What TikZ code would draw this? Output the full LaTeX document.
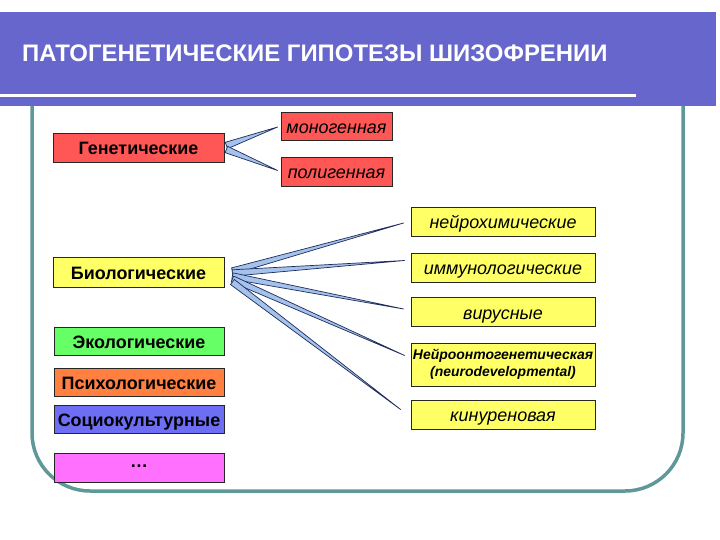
\documentclass[tikz,border=0pt]{standalone}
\usepackage{fontspec}
\setmainfont{Liberation Sans}
\usetikzlibrary{calc}
\definecolor{banner}{HTML}{6666CC}
\definecolor{frameteal}{HTML}{5F9898}
\definecolor{gred}{HTML}{FF5656}
\definecolor{gyel}{HTML}{FFFF66}
\definecolor{ggreen}{HTML}{66FF66}
\definecolor{gorange}{HTML}{FF8040}
\definecolor{gblue}{HTML}{6E6EF5}
\definecolor{gpink}{HTML}{FF70FF}
\definecolor{wedgefill}{HTML}{A4C2EC}
\definecolor{wedgeline}{HTML}{1E2C5A}
\tikzset{
  box/.style={draw=black!85, line width=0.8bp, inner sep=0pt, align=center},
  catbox/.style={box, minimum width=170bp, minimum height=29bp, text height=16bp, text depth=1bp, font=\fontsize{18}{20}\selectfont\bfseries},
  subbox/.style={box, fill=gyel, minimum width=184bp, minimum height=29bp, text height=16bp, text depth=1.6bp, font=\fontsize{18}{20}\selectfont\itshape},
  genbox/.style={box, fill=gred, minimum width=111bp, minimum height=28bp, text height=16bp, text depth=1.6bp, font=\fontsize{18}{20}\selectfont\itshape},
  wedge/.style={fill=wedgefill, draw=wedgeline, line width=0.7bp, line join=round}
}
\newcommand{\wedgeconn}[3]{%
  \path[wedge] ($(#1)!#3!90:(#2)$) -- (#2) -- ($(#1)!#3!-90:(#2)$) -- cycle;}
\begin{document}
\begin{tikzpicture}[x=1bp,y=-1bp]
\useasboundingbox (0,0) rectangle (720,540);
\fill[white] (0,0) rectangle (720,540);
% frame
\draw[frameteal, line width=3.5bp, rounded corners=58bp] (32,80) -- (32,491) -- (683,491) -- (683,80);
% banner
\fill[banner] (0,12) rectangle (716,106);
\fill[white] (0,94.5) rectangle (636,97.5);
\node[anchor=west, inner sep=0pt, text=white, font=\fontsize{24}{26}\selectfont\bfseries] (title) at (22,53) {ПАТОГЕНЕТИЧЕСКИЕ ГИПОТЕЗЫ ШИЗОФРЕНИИ};
% left categories
\node[catbox, fill=gred, minimum width=171bp] (gen) at (138.5,147.5) {Генетические};
\node[catbox, fill=gyel, minimum width=171bp, minimum height=30bp] (bio) at (138.5,272) {Биологические};
\node[catbox, fill=ggreen, minimum height=28bp] (eco) at (139,341) {Экологические};
\node[catbox, fill=gorange, minimum height=28bp] (psy) at (139,382) {Психологические};
\node[catbox, fill=gblue, minimum height=28bp] (soc) at (139,419) {Социокультурные};
\node[catbox, fill=gpink, text height=2bp, text depth=2bp] (dots) at (139,467.5) {…};
% genetic subtypes
\node[genbox] (mono) at (336.5,126) {моногенная};
\node[genbox, minimum height=29bp] (poly) at (336.5,171.5) {полигенная};
% biological subtypes
\node[subbox] (nch) at (503,221.5) {нейрохимические};
\node[subbox] (imm) at (503,267.5) {иммунологические};
\node[subbox] (vir) at (503,312) {вирусные};
\node[box, fill=gyel, minimum width=184bp, minimum height=43bp, font=\fontsize{14}{17}\selectfont\bfseries\itshape] (ont) at (503,364.5) {Нейроонтогенетическая\\(neurodevelopmental)};
\node[subbox] (kyn) at (503,414.5) {кинуреновая};
% connector anchor points
\coordinate (gs1) at ($(gen.east)+(2,-2)$);
\coordinate (gs2) at ($(gen.east)+(2,2)$);
\coordinate (ge1) at ($(mono.west)+(-3,1)$);
\coordinate (ge2) at ($(poly.west)+(-3,-1)$);
\coordinate (bs1) at ($(bio.east)+(8,-1)$);
\coordinate (bs2) at ($(bio.east)+(8,1)$);
\coordinate (bs3) at ($(bio.east)+(8,4)$);
\coordinate (bs4) at ($(bio.east)+(8,7)$);
\coordinate (bs5) at ($(bio.east)+(8,10)$);
\coordinate (be1) at ($(nch.west)+(-7,1.5)$);
\coordinate (be2) at ($(imm.west)+(-6,-7)$);
\coordinate (be3) at ($(vir.west)+(-7,-3)$);
\coordinate (be4) at ($(ont.west)+(-6,-9)$);
\coordinate (be5) at ($(kyn.west)+(-10,-5)$);
\wedgeconn{gs1}{ge1}{3.4bp}
\wedgeconn{gs2}{ge2}{3.4bp}
\wedgeconn{bs1}{be1}{3.2bp}
\wedgeconn{bs2}{be2}{3.2bp}
\wedgeconn{bs3}{be3}{3.2bp}
\wedgeconn{bs4}{be4}{3.2bp}
\wedgeconn{bs5}{be5}{3.2bp}
\end{tikzpicture}
\end{document}
